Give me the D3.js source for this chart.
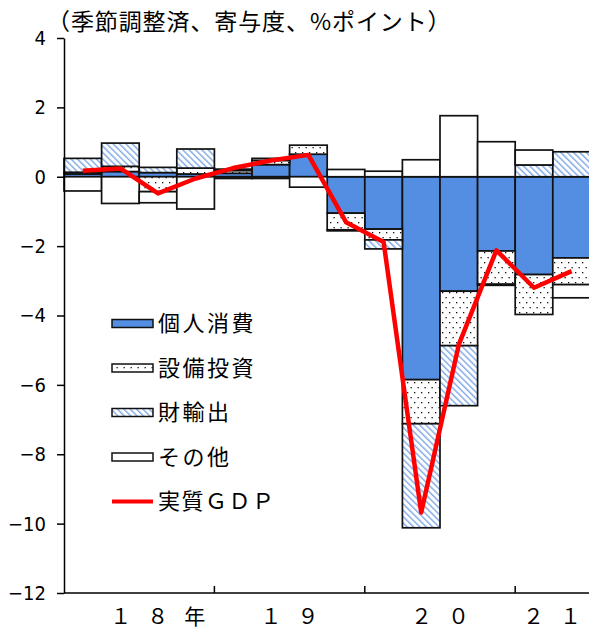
<!DOCTYPE html>
<html>
<head>
<meta charset="utf-8">
<script src="https://cdn.jsdelivr.net/npm/d3@7"></script>
<style>
  html, body { margin: 0; padding: 0; background: #fff; }
  svg { display: block; }
  .jp { font-family: "Noto Sans CJK JP", "Noto Sans", sans-serif; }
  .num { font-family: "Liberation Sans Narrow", "DejaVu Sans Condensed", "Liberation Sans", sans-serif; }
</style>
</head>
<body>
<svg id="chart" width="589" height="632"></svg>
<script>
// Quarterly real GDP growth and contributions (seasonally adjusted, %pt)
const quarters = ["2018Q1","2018Q2","2018Q3","2018Q4",
                  "2019Q1","2019Q2","2019Q3","2019Q4",
                  "2020Q1","2020Q2","2020Q3","2020Q4",
                  "2021Q1","2021Q2"];

const consumption = [0.08, 0.15, 0.12, 0.08, 0.10, 0.35, 0.65, -1.05, -1.51, -5.85, -3.30, -2.14, -2.82, -2.34];
const capex       = [0.05, 0.15, -0.43, 0.17, 0.08, 0.12, 0.26, -0.48, -0.31, -1.27, -1.57, -0.96, -1.15, -0.77];
const exportsGoods= [0.40, 0.67, 0.15, 0.55, -0.05, -0.05, 0.00, -0.03, -0.26, -3.00, -1.73, -0.03, 0.34, 0.72];
const other       = [-0.41, -0.77, -0.32, -0.93, 0.04, 0.06, -0.30, 0.21, 0.16, 0.49, 1.76, 1.01, 0.43, -0.38];
const realGDP     = [0.17, 0.24, -0.48, -0.05, 0.25, 0.47, 0.63, -1.31, -1.88, -9.68, -4.84, -2.12, -3.20, -2.72];

const seriesNames = ["個人消費", "設備投資", "財輸出", "その他"];
const gdpName = "実質ＧＤＰ";
const yTicks = [4, 2, 0, -2, -4, -6, -8, -10, -12];
const yearLabels = ["１８年", "１９", "２０", "２１"];
const yearDigits = [2, 2, 2, 2];          // chars centred on the year position
const yearOf = ["2018", "2019", "2020", "2021"];
const titleText = "（季節調整済、寄与度、%ポイント）";

const svg = d3.select("#chart");
const W = 589, H = 632;
const plotLeft = 64, plotTop = 38, plotBottom = 593;
const qWidth = 37.6;

const x = d3.scaleBand()
  .domain(quarters)
  .range([plotLeft, plotLeft + quarters.length * qWidth])
  .paddingInner(0).paddingOuter(0);
const y = d3.scaleLinear().domain([-12, 4]).range([plotBottom, plotTop]);

// Fill patterns
const defs = svg.append("defs");
const dots = defs.append("pattern")
  .attr("id", "dots").attr("patternUnits", "userSpaceOnUse")
  .attr("width", 7).attr("height", 10);
dots.append("rect").attr("width", 7).attr("height", 10).attr("fill", "#fff");
dots.append("rect").attr("x", 1).attr("y", 2).attr("width", 1.3).attr("height", 1.3).attr("fill", "#111");
dots.append("rect").attr("x", 4.5).attr("y", 7).attr("width", 1.3).attr("height", 1.3).attr("fill", "#111");

const hatch = defs.append("pattern")
  .attr("id", "hatch").attr("patternUnits", "userSpaceOnUse")
  .attr("width", 4.5).attr("height", 4.5)
  .attr("patternTransform", "rotate(-45)");
hatch.append("rect").attr("width", 4.5).attr("height", 4.5).attr("fill", "#fff");
hatch.append("rect").attr("x", 0).attr("y", 0).attr("width", 1.5).attr("height", 4.5).attr("fill", "#86aee6");

const fills = ["#548ee2", "url(#dots)", "url(#hatch)", "#ffffff"];

// Stacked contributions
const keys = ["c", "k", "e", "o"];
const rows = quarters.map((q, i) => ({
  q, c: consumption[i], k: capex[i], e: exportsGoods[i], o: other[i]
}));
const stack = d3.stack().keys(keys).offset(d3.stackOffsetDiverging);
const stacked = stack(rows);

const barsG = svg.append("g");
stacked.forEach((layer, li) => {
  barsG.selectAll(null)
    .data(layer.filter(d => Math.abs(d[1] - d[0]) > 1e-9))
    .join("rect")
    .attr("x", d => x(d.data.q))
    .attr("width", x.bandwidth())
    .attr("y", d => y(Math.max(d[0], d[1])))
    .attr("height", d => Math.abs(y(d[0]) - y(d[1])))
    .attr("fill", fills[li])
    .attr("stroke", "#111")
    .attr("stroke-width", 1.7);
});

// Real GDP line
const line = d3.line()
  .x((d, i) => x(quarters[i]) + x.bandwidth() / 2)
  .y(d => y(d));
svg.append("path")
  .datum(realGDP)
  .attr("d", line)
  .attr("fill", "none")
  .attr("stroke", "#ff0000")
  .attr("stroke-width", 4.5)
  .attr("stroke-linejoin", "round");

// Axes
const yAxis = d3.axisLeft(y).tickValues(yTicks).tickSize(7).tickSizeOuter(0).tickPadding(11)
  .tickFormat(d3.format("d"));
const yG = svg.append("g").attr("transform", `translate(${plotLeft},0)`).call(yAxis);
yG.select(".domain").attr("stroke", "#000").attr("stroke-width", 1.5);
yG.selectAll(".tick line").attr("stroke", "#000").attr("stroke-width", 1.5);
yG.selectAll(".tick text").attr("class", "num").attr("font-size", 20).attr("fill", "#000");

// x baseline at the bottom of the scale with inward year ticks
svg.append("line")
  .attr("x1", plotLeft).attr("x2", W).attr("y1", plotBottom).attr("y2", plotBottom)
  .attr("stroke", "#000").attr("stroke-width", 1.5);
const yearStarts = yearOf.slice(1).map(yr => x(yr + "Q1"));
svg.selectAll(null).data(yearStarts).join("line")
  .attr("x1", d => d).attr("x2", d => d)
  .attr("y1", plotBottom).attr("y2", plotBottom - 7)
  .attr("stroke", "#000").attr("stroke-width", 1.5);

// Year labels centred over each year's visible quarters
const charStep = 37;
yearLabels.forEach((lab, i) => {
  const qs = quarters.filter(q => q.startsWith(yearOf[i]));
  const x0 = x(qs[0]);
  const x1 = Math.min(x(qs[qs.length - 1]) + x.bandwidth(), W);
  const pos = (x0 + x1) / 2;
  const t = svg.append("text").attr("class", "jp").attr("font-size", 21)
    .attr("y", 624).attr("text-anchor", "middle").attr("fill", "#000");
  Array.from(lab).forEach((ch, j) => {
    t.append("tspan")
      .attr("x", pos + (j - (yearDigits[i] - 1) / 2) * charStep)
      .text(ch);
  });
});

// Title
svg.append("text").attr("class", "jp")
  .attr("x", 47).attr("y", 30)
  .attr("font-size", 23).attr("letter-spacing", 0.9).attr("fill", "#000")
  .text(titleText);

// Legend
const legendX = 112, legendY0 = 323.5, legendStep = 44.5;
const lg = svg.append("g");
seriesNames.forEach((name, i) => {
  const yy = legendY0 + i * legendStep;
  lg.append("rect").attr("x", legendX).attr("y", yy - 4).attr("width", 41).attr("height", 8)
    .attr("fill", fills[i]).attr("stroke", "#111").attr("stroke-width", 1.5);
  lg.append("text").attr("class", "jp").attr("x", legendX + 46).attr("y", yy)
    .attr("dy", "0.36em").attr("font-size", 22).attr("letter-spacing", 2.5)
    .attr("fill", "#000").text(name);
});
{
  const yy = legendY0 + 4 * legendStep;
  lg.append("line").attr("x1", legendX).attr("x2", legendX + 41).attr("y1", yy).attr("y2", yy)
    .attr("stroke", "#ff0000").attr("stroke-width", 4);
  lg.append("text").attr("class", "jp").attr("x", legendX + 46).attr("y", yy)
    .attr("dy", "0.36em").attr("font-size", 22).attr("letter-spacing", 1.5)
    .attr("fill", "#000").text(gdpName);
}
</script>
</body>
</html>
